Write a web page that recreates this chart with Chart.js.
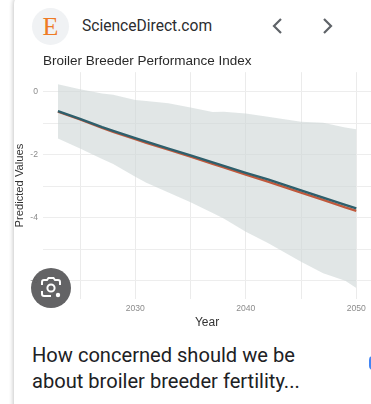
<!DOCTYPE html>
<html>
<head>
<meta charset="utf-8">
<title>Broiler Breeder Performance Index</title>
<script src="https://cdn.jsdelivr.net/npm/chart.js@4"></script>
<style>
  html, body { margin: 0; padding: 0; background: #fff; overflow: hidden; }
  #page { position: relative; width: 371px; height: 404px; overflow: hidden; background: #fff; font-family: Roboto, sans-serif; }
  #card-edge { position: absolute; left: 14px; top: -6px; width: 400px; height: 430px; border-radius: 10px; box-shadow: -1px 0 4px rgba(0,0,0,0.22); }
  #logo { position: absolute; left: 32px; top: 8px; width: 37px; height: 37px; border-radius: 50%; background: #f0f2f4; }
  #logo-e { position: absolute; left: 32px; top: 8px; width: 37px; line-height: 37px; text-align: center; font: 26px/37px "Liberation Serif", serif; color: #ee7a24; }
  #source { position: absolute; left: 82px; top: 16px; font-size: 15.6px; line-height: 20px; color: #2b2d30; }
  .chev { position: absolute; top: 17px; }
  #wrap { position: absolute; left: 0; top: 50px; width: 371px; height: 280px; }
  #lens { position: absolute; left: 31px; top: 268px; opacity: 0.95; }
  #caption { position: absolute; left: 32px; top: 342px; font-size: 20.1px; line-height: 26px; color: #202124; white-space: nowrap; }
  #dot { position: absolute; left: 369px; top: 356px; width: 8px; height: 14px; border-radius: 4px; background: #4285f4; }
</style>
</head>
<body>
<div id="page">
  <div id="card-edge"></div>
  <div id="logo"></div>
  <div id="logo-e">E</div>
  <div id="source">ScienceDirect.com</div>
  <svg class="chev" style="left:270px" width="14" height="18" viewBox="0 0 14 18"><path d="M11 2 L4 9 L11 16" fill="none" stroke="#5f6368" stroke-width="2.2"/></svg>
  <svg class="chev" style="left:321px" width="14" height="18" viewBox="0 0 14 18"><path d="M3 2 L10 9 L3 16" fill="none" stroke="#5f6368" stroke-width="2.2"/></svg>
  <div id="wrap"><canvas id="myChart" width="371" height="280"></canvas></div>
  <svg id="lens" width="40" height="40" viewBox="0 0 40 40">
    <circle cx="20" cy="20" r="20" fill="#5b5b5d"/>
    <path d="M11 17 V14 Q11 12 13 12 H16 L17.5 10 H22.5 L24 12 H27 Q29 12 29 14 V17 M11 23 V26 Q11 28 13 28 H20" fill="none" stroke="#fff" stroke-width="2"/>
    <circle cx="20" cy="20" r="3.6" fill="none" stroke="#fff" stroke-width="2"/>
    <circle cx="27" cy="27" r="2.2" fill="#fff"/>
  </svg>
  <div id="caption">How concerned should we be<br>about broiler breeder fertility...</div>
  <div id="dot"></div>
</div>
<script>
const years = [2023, 2025, 2027, 2028, 2030, 2031, 2033, 2035, 2037, 2038, 2040, 2042, 2045, 2047, 2049, 2050];
const upperBand = [0.24, 0.08, -0.05, -0.09, -0.26, -0.29, -0.36, -0.5, -0.64, -0.63, -0.69, -0.79, -0.95, -0.98, -1.13, -1.19];
const lowerBand = [-1.48, -1.8, -2.13, -2.29, -2.7, -2.89, -3.2, -3.51, -3.85, -4.02, -4.44, -4.8, -5.4, -5.76, -6.0, -6.23];
const blueLine = [-0.61, -0.86, -1.12, -1.24, -1.47, -1.58, -1.8, -2.02, -2.24, -2.35, -2.57, -2.78, -3.13, -3.36, -3.59, -3.7];
const redLine = [-0.63, -0.88, -1.15, -1.27, -1.5, -1.62, -1.84, -2.06, -2.29, -2.4, -2.63, -2.85, -3.2, -3.43, -3.67, -3.78];
const xGrid = [2025, 2030, 2035, 2040, 2045, 2050];
const xLabels = [2030, 2040, 2050];
const yGrid = [0, -1, -2, -3, -4, -5, -6];
const yLabels = [0, -2, -4, -6];

const toPoints = values => values.map((v, i) => ({ x: years[i], y: v }));

// chart.js paints the first dataset on top, so the lines come before the band
const config = {
  type: 'line',
  data: {
    datasets: [
      { label: 'blue', data: toPoints(blueLine), borderColor: '#2e5f6c', borderWidth: 2.4, pointRadius: 0, fill: false },
      { label: 'red', data: toPoints(redLine), borderColor: '#c0593c', borderWidth: 2.2, pointRadius: 0, fill: false },
      { label: 'upper', data: toPoints(upperBand), borderWidth: 0, pointRadius: 0, fill: '+1', backgroundColor: 'rgba(205,213,213,0.6)', tension: 0 },
      { label: 'lower', data: toPoints(lowerBand), borderWidth: 0, pointRadius: 0, fill: false, tension: 0 }
    ]
  },
  options: {
    responsive: false,
    animation: false,
    devicePixelRatio: 1,
    layout: { padding: 0 },
    plugins: {
      legend: { display: false },
      tooltip: { enabled: false },
      title: {
        display: true,
        text: 'Broiler Breeder Performance Index',
        align: 'start',
        fullSize: false,
        color: '#2a2a2a',
        font: { family: 'Liberation Sans', size: 13.5, weight: 'normal' },
        padding: { top: 3, bottom: 3 }
      }
    },
    scales: {
      x: {
        type: 'linear',
        min: 2021.65,
        max: 2051.33,
        afterFit: scale => { scale.height = 31; },
        afterBuildTicks: scale => { scale.ticks = xGrid.map(v => ({ value: v })); },
        border: { display: false },
        grid: { color: '#ebebeb', lineWidth: 1, drawTicks: false },
        ticks: {
          autoSkip: false,
          maxRotation: 0,
          padding: 4,
          color: '#8c8c8c',
          font: { family: 'Liberation Sans', size: 8.6 },
          callback: v => xLabels.includes(v) ? String(v) : ''
        },
        title: { display: true, text: 'Year', color: '#333', font: { family: 'Liberation Sans', size: 12 }, padding: { top: 0, bottom: 0 } }
      },
      y: {
        type: 'linear',
        min: -6.58,
        max: 0.625,
        afterFit: scale => { scale.width = 43; },
        afterBuildTicks: scale => { scale.ticks = yGrid.map(v => ({ value: v })); },
        border: { display: false },
        grid: { color: '#ededed', lineWidth: 1, drawTicks: false },
        ticks: {
          autoSkip: false,
          padding: 5,
          color: '#8c8c8c',
          font: { family: 'Liberation Sans', size: 8.6 },
          callback: v => yLabels.includes(v) ? String(v) : ''
        },
        title: { display: true, text: 'Predicted Values', color: '#333', font: { family: 'Liberation Sans', size: 11.2 }, padding: { top: 13, bottom: 0 } }
      }
    }
  }
};

const myChart = new Chart(document.getElementById('myChart'), config);
</script>
</body>
</html>
